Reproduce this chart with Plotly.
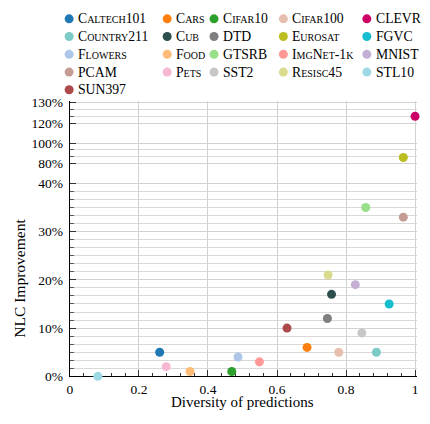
import numpy as np
import plotly.graph_objects as go

# ---------------- data ----------------
names = ["Caltech101", "Cars", "Cifar10", "Cifar100", "CLEVR",
         "Country211", "Cub", "DTD", "Eurosat", "FGVC",
         "Flowers", "Food", "GTSRB", "ImgNet-1k", "MNIST",
         "PCAM", "Pets", "SST2", "Resisc45", "STL10",
         "SUN397"]
colors = ["#1f77b4", "#ff7f0e", "#2ca02c", "#e6bfae", "#cc0066",
          "#7ccbc6", "#2f4f4f", "#7f7f7f", "#bcbd22", "#17becf",
          "#aec7e8", "#ffbb78", "#98df8a", "#ff9896", "#c5b0d5",
          "#c49c94", "#f7b6d2", "#c7c7c7", "#dbdb8d", "#9edae5",
          "#ad494a"]
diversity = [0.260, 0.687, 0.469, 0.779, 1.000,
             0.888, 0.758, 0.746, 0.966, 0.925,
             0.487, 0.348, 0.857, 0.549, 0.827,
             0.966, 0.279, 0.846, 0.748, 0.081,
             0.629]
improvement = [5.0, 6.0, 1.0, 5.0, 123.3,
               5.0, 17.0, 12.0, 85.5, 15.0,
               4.0, 1.0, 35.0, 3.0, 19.0,
               33.0, 2.0, 9.0, 21.0, 0.0,
               10.0]
x_ticks = [0, 0.2, 0.4, 0.6, 0.8, 1.0]
x_ticktext = ["0", "0.2", "0.4", "0.6", "0.8", "1"]
y_ticks = [0, 10, 20, 30, 40, 80, 100, 120, 130]
y_ticktext = ["0%", "10%", "20%", "30%", "40%", "80%", "100%", "120%", "130%"]

# ---------------- broken (piecewise) y scale: value -> px above the x axis ----------------
brk_vals = [0, 40, 80, 100, 120, 130]
brk_pos = [0, 199.3, 220.3, 241.0, 261.6, 282.6]


def ymap(v):
    return np.interp(np.asarray(v, dtype=float), brk_vals, brk_pos)


minor_vals = [k * 10 / 6 for k in range(1, 24) if k % 6] + [86.67, 93.33, 123.33, 126.67]

SERIF = "Liberation Serif"
# the page body has an 8px margin: keep the whole page inside the window
W, H = 414, 408
X0, X1 = 59.5, 408.0          # px of x=0 and x=1
XR = 410.0                    # right edge of plot area
YB = 375.3                    # px (from top) of the x axis
YT = 90.7                     # px (from top) of the top of the plot area
LEG_BOTTOM = 87.0             # px (from top) of the bottom of the legend strip

fig = go.Figure()

for n, c, xv, yv in zip(names, colors, diversity, improvement):
    fig.add_trace(go.Scatter(
        x=[xv], y=ymap([yv]), mode="markers", name=n, showlegend=False,
        marker=dict(color=c, size=9, line=dict(width=0)),
        cliponaxis=False,
        customdata=[yv], hovertemplate=n + ": %{x:.2f}, %{customdata}%<extra></extra>",
    ))

# ---------------- legend (5 columns), drawn in a helper strip measured in px ----------------
col_x = [58.7, 157.7, 205.0, 275.0, 359.3]
row_y = [6.0, 24.3, 42.7, 61.0, 79.3]
leg_x = [col_x[i % 5] for i in range(len(names))]
leg_y = [row_y[i // 5] for i in range(len(names))]
fig.add_trace(go.Scatter(
    x=leg_x, y=leg_y, xaxis="x2", yaxis="y2", mode="markers",
    marker=dict(color=colors, size=9, line=dict(width=0)),
    showlegend=False, hoverinfo="skip", cliponaxis=False,
))
annotations = []
for n, lx, ly in zip(names, leg_x, leg_y):
    annotations.append(dict(
        x=lx + 7.0, y=ly, xref="x2", yref="y2", text=n, showarrow=False,
        xanchor="left", yanchor="middle",
        font=dict(family=SERIF, size=13.7, color="black", variant="small-caps"),
    ))
# axis titles (paper coords == figure px because margins are zero)
annotations.append(dict(
    x=8.5 / W, y=1 - 274.0 / H, xref="paper", yref="paper", text="NLC Improvement",
    showarrow=False, textangle=-90, xanchor="center", yanchor="middle",
    font=dict(family=SERIF, size=15.5, color="black"),
))
annotations.append(dict(
    x=(X0 + X1) / 2 / W, y=1 - 401.5 / H, xref="paper", yref="paper",
    text="Diversity of predictions",
    showarrow=False, xanchor="center", yanchor="middle",
    font=dict(family=SERIF, size=15, color="black"),
))

fig.update_layout(
    width=W, height=H,
    margin=dict(l=0, r=0, t=0, b=0, pad=0),
    paper_bgcolor="white", plot_bgcolor="white",
    showlegend=False,
    annotations=annotations,
    xaxis=dict(
        domain=[X0 / W, XR / W], range=[0, (XR - X0) / (X1 - X0)],
        tickmode="array", tickvals=x_ticks, ticktext=x_ticktext,
        showgrid=True, gridcolor="#d2d2d2", gridwidth=1.3,
        showline=True, linecolor="black", linewidth=1.3, mirror=False,
        ticks="inside", ticklen=6, tickcolor="#333333", tickwidth=1,
        minor=dict(dtick=0.04, tick0=0, ticks="inside", ticklen=3.5,
                   tickcolor="#333333", showgrid=False),
        tickfont=dict(family=SERIF, size=13.5, color="black"),
        zeroline=False, layer="below traces", fixedrange=True,
    ),
    yaxis=dict(
        domain=[1 - YB / H, 1 - YT / H], range=[0, YB - YT],
        tickmode="array", tickvals=list(ymap(y_ticks)), ticktext=y_ticktext,
        showgrid=True, gridcolor="#d2d2d2", gridwidth=1,
        showline=True, linecolor="black", linewidth=1.3, mirror=False,
        ticks="inside", ticklen=6, tickcolor="#333333", tickwidth=1,
        minor=dict(tickvals=list(ymap(minor_vals)), ticks="inside", ticklen=4,
                   tickcolor="#555555", showgrid=True, gridcolor="#d9d9d9", gridwidth=1),
        tickfont=dict(family=SERIF, size=13.5, color="black"),
        ticklabelstandoff=3,
        zeroline=False, layer="below traces", fixedrange=True,
    ),
    xaxis2=dict(range=[0, W], domain=[0, 1], anchor="y2", visible=False, fixedrange=True),
    yaxis2=dict(range=[LEG_BOTTOM, 0], domain=[1 - LEG_BOTTOM / H, 1], anchor="x2",
                visible=False, fixedrange=True),
)

fig.write_html("out.html")
